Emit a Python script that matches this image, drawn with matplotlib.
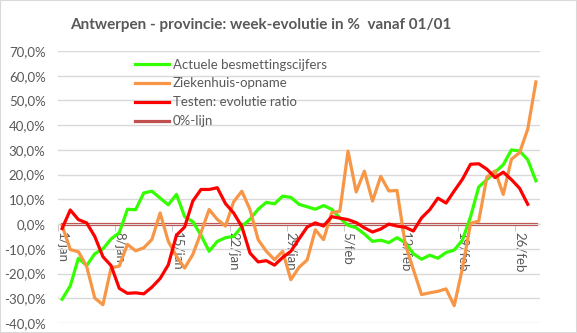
import numpy as np
import matplotlib
matplotlib.use("Agg")
from matplotlib import pyplot as plt
from matplotlib.patches import Rectangle

# daily values 1/jan .. 28/feb (59 days), week-evolution in %
tick_labels = ['1/jan', '8/jan', '15/jan', '22/jan', '29/jan', '5/feb', '12/feb', '19/feb', '26/feb']

besmettingen = [-30.4, -25, -13.8, -16.8, -12, -10, -6, -3.5, 6, 5.8,
                12.6, 13.3, 10.5, 7.8, 12, 3, 1, -4.5, -11, -7,
                -5.5, -5, -1, 2, 6, 8.8, 8.2, 11.3, 10.8, 8,
                7, 6, 7.5, 6, 2.5, -0.5, -1.5, -4, -7, -6.5,
                -7.5, -5.5, -7.5, -12, -14.2, -12.6, -13.8, -11.5, -10.5, -6.5,
                3, 15, 18, 21, 24, 30, 29.6, 26, 17.5]

ziekenhuis = [-0.5, -10.3, -11.2, -17, -29.9, -32.6, -17.7, -17, -8.2, -10.8,
              -9.6, -6.2, 4.5, -7, -13, -17.8, -12.3, -3.5, 5.9, 1.9,
              -0.8, 9, 13.3, 5.9, -6.3, -11, -14.4, -11, -22.5, -17.5,
              -14.5, -2.3, -6.3, 4.6, 5.2, 29.5, 13, 21.4, 9.3, 19.3,
              13.4, 13.6, -8, -18.4, -28.5, -27.8, -27.2, -26.2, -33, -18,
              0.3, 1.2, 19, 21.5, 12, 26.2, 28.9, 38.4, 57.5]

testen = [-1.8, 5.7, 1.8, 0.5, -5, -13.2, -16.8, -26, -28, -27.8,
          -28.2, -25.5, -22, -16.5, -4.5, -1.2, 9.3, 14, 14, 14.7,
          8.3, 4.5, -1, -11.7, -15.3, -14.8, -16.6, -13.5, -11, -6,
          -1.2, 0.5, -0.8, 3, 2.4, 1.8, 0.6, -1.5, -3.2, -2,
          0, -0.8, -1.3, -2.8, 2.5, 5.8, 10.5, 8.5, 13.4, 18.1,
          24.2, 24.4, 22.2, 18.8, 21, 18, 14.5, 8, np.nan]

nul_lijn = [0] * 59

days = np.arange(len(besmettingen))
grey = '#595959'

plt.rcParams['font.family'] = ['Lato', 'DejaVu Sans']

fig = plt.figure(figsize=(5.77, 3.33), dpi=100)
ax = fig.add_axes([58/577, 1 - 323/333, (540-58)/577, (323-51)/333])

lw = 2.3
ax.plot(days, nul_lijn, color='#C0504D', lw=lw, label='0%-lijn', zorder=2)
ax.plot(days, besmettingen, color='#33FF00', lw=lw, label='Actuele besmettingscijfers', zorder=3)
ax.plot(days, ziekenhuis, color='#F79646', lw=lw, label='Ziekenhuis-opname', zorder=3)
ax.plot(days, testen, color='#FF0000', lw=lw, label='Testen: evolutie ratio', zorder=4)

ax.set_xlim(-0.5, len(days) - 0.5)
ax.set_ylim(-40, 70)
yt = np.arange(-40, 71, 10)
ax.set_yticks(yt)
ax.set_yticklabels([f"{v:.1f}%".replace('.', ',') for v in yt], color=grey, fontsize=9.5)
ax.tick_params(axis='y', length=0, pad=9)
ax.grid(axis='y', color='#D9D9D9', lw=1)
ax.set_axisbelow(True)

ax.spines['bottom'].set_position(('data', 0))
ax.spines['bottom'].set_color('#D9D9D9')
for s in ['left', 'right', 'top']:
    ax.spines[s].set_visible(False)
ax.set_xticks(np.arange(0, len(days), 7))
ax.set_xticklabels(tick_labels, rotation=270, color=grey, fontsize=9.5)
ax.set_xticks(np.arange(-0.5, len(days), 7), minor=True)
ax.tick_params(axis='x', which='major', length=0, pad=6)
ax.tick_params(axis='x', which='minor', length=5, color='#BFBFBF', direction='out')

h, l = ax.get_legend_handles_labels()
order = [1, 2, 3, 0]
leg = ax.legend([h[i] for i in order], [l[i] for i in order],
                loc='upper left', bbox_to_anchor=(128/577, 1 - 52/333),
                bbox_transform=fig.transFigure, frameon=False, fontsize=9.5,
                handlelength=2.6, handletextpad=0.3, labelspacing=0.52, borderpad=0)
for t in leg.get_texts():
    t.set_color(grey)

fig.text(261/577, 1 - 25/333, 'Antwerpen - provincie: week-evolutie in %  vanaf 01/01',
         ha='center', va='center', fontsize=11, fontweight='bold', color=grey)

fig.patches.append(Rectangle((0, 0), 1, 1, transform=fig.transFigure, fill=False,
                             edgecolor='#D9D9D9', lw=1.5))

fig.savefig('out.png', dpi=100)
